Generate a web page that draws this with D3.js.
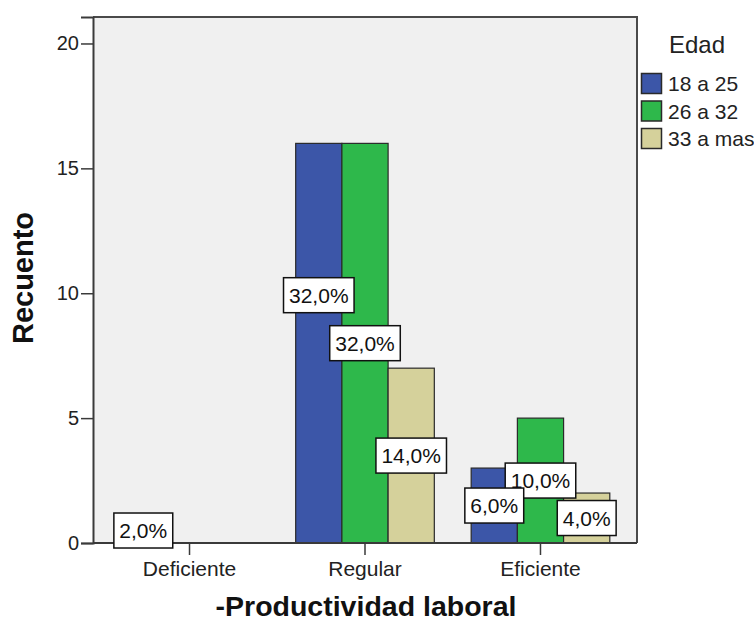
<!DOCTYPE html>
<html>
<head>
<meta charset="utf-8">
<script src="https://cdn.jsdelivr.net/npm/d3@7"></script>
<style>
  html, body { margin: 0; padding: 0; background: #ffffff; }
  svg { display: block; font-family: "Liberation Sans", Arial, sans-serif; }
</style>
</head>
<body>
<svg id="chart" width="754" height="625"></svg>
<script>
// Recuento por nivel de productividad laboral y grupo de edad
const categories = ["Deficiente", "Regular", "Eficiente"];
const groups = ["18 a 25", "26 a 32", "33 a mas"];
const counts18a25 = [1, 16, 3];
const counts26a32 = [0, 16, 5];
const counts33aMas = [0, 7, 2];
const percent18a25 = ["2,0%", "32,0%", "6,0%"];
const percent26a32 = ["", "32,0%", "10,0%"];
const percent33aMas = ["", "14,0%", "4,0%"];
const yTicks = [0, 5, 10, 15, 20];
const colors = ["#3C56A8", "#2EB84B", "#D5D19B"];

const seriesCounts = [counts18a25, counts26a32, counts33aMas];
const seriesPct = [percent18a25, percent26a32, percent33aMas];

const rows = [];
categories.forEach((c, ci) => {
  groups.forEach((g, gi) => {
    rows.push({ cat: c, group: g, gi, value: seriesCounts[gi][ci], pct: seriesPct[gi][ci] });
  });
});

const svg = d3.select("#chart");
const plot = { left: 93, right: 637, top: 17, bottom: 543 };

const x0 = d3.scaleBand()
  .domain(categories)
  .range([plot.left, plot.right])
  .paddingInner(0.21)
  .paddingOuter(0.155);
const x1 = d3.scaleBand()
  .domain(groups)
  .range([0, x0.bandwidth()])
  .padding(0);
const y = d3.scaleLinear()
  .domain([0, 21.06])
  .range([plot.bottom, plot.top]);
const color = d3.scaleOrdinal().domain(groups).range(colors);

// plot background
svg.append("rect")
  .attr("x", plot.left).attr("y", plot.top)
  .attr("width", plot.right - plot.left).attr("height", plot.bottom - plot.top)
  .attr("fill", "#F0F0F0");

// bars
svg.append("g").selectAll("rect")
  .data(rows.filter(d => d.value > 0))
  .join("rect")
  .attr("x", d => x0(d.cat) + x1(d.group))
  .attr("y", d => y(d.value))
  .attr("width", x1.bandwidth())
  .attr("height", d => y(0) - y(d.value))
  .attr("fill", d => color(d.group))
  .attr("stroke", "#2a2a2a")
  .attr("stroke-width", 1.2);

// frame (top and right sides)
svg.append("path")
  .attr("d", `M${plot.left},${plot.top}H${plot.right}V${plot.bottom}`)
  .attr("fill", "none")
  .attr("stroke", "#4a4a4a")
  .attr("stroke-width", 2);

// y axis
const yAxis = svg.append("g")
  .attr("transform", `translate(${plot.left},0)`)
  .call(d3.axisLeft(y).tickValues(yTicks).tickSize(12).tickPadding(2).tickFormat(d3.format("d")));
yAxis.select(".domain").attr("stroke", "#3a3a3a").attr("stroke-width", 2);
yAxis.selectAll(".tick line").attr("stroke", "#3a3a3a").attr("stroke-width", 1.5);
yAxis.selectAll(".tick text").attr("font-size", 20).attr("fill", "#222")
  .attr("font-family", "Liberation Sans, Arial, sans-serif");

// x axis
const xAxis = svg.append("g")
  .attr("transform", `translate(0,${plot.bottom})`)
  .call(d3.axisBottom(x0).tickSize(12).tickPadding(6).tickSizeOuter(0));
xAxis.select(".domain").attr("stroke", "#3a3a3a").attr("stroke-width", 2)
  .attr("d", `M${plot.left},0H${plot.right}`);
xAxis.selectAll(".tick line").attr("stroke", "#3a3a3a").attr("stroke-width", 1.5);
xAxis.selectAll(".tick text").attr("font-size", 21).attr("fill", "#222")
  .attr("font-family", "Liberation Sans, Arial, sans-serif");

// axis titles
svg.append("text")
  .attr("transform", `translate(33,278) rotate(-90)`)
  .attr("text-anchor", "middle")
  .attr("font-size", 29).attr("font-weight", "bold").attr("fill", "#111")
  .text("Recuento");
svg.append("text")
  .attr("x", 366).attr("y", 616)
  .attr("text-anchor", "middle")
  .attr("font-size", 28.5).attr("font-weight", "bold").attr("fill", "#111")
  .text("-Productividad laboral");

// percentage labels, centred on each bar; a label that would sit
// on top of its neighbour is lifted above it
const labelH = 35, padX = 5.5, gap = 13;
const labelLayer = svg.append("g");
const placed = [];
const labelRows = rows.filter(d => d.pct !== "").slice().sort((a, b) =>
  categories.indexOf(a.cat) - categories.indexOf(b.cat) || b.gi - a.gi);
labelRows.forEach(d => {
  const cx = x0(d.cat) + x1(d.group) + x1.bandwidth() / 2;
  let cy = (y(d.value) + y(0)) / 2;
  const g = labelLayer.append("g");
  const rect = g.append("rect");
  const t = g.append("text")
    .attr("text-anchor", "middle")
    .attr("font-size", 21).attr("fill", "#111")
    .text(d.pct);
  const w = t.node().getComputedTextLength() + 2 * padX;
  placed.forEach(p => {
    const hOverlap = Math.min(cx + w / 2, p.x + p.w / 2) - Math.max(cx - w / 2, p.x - p.w / 2);
    const vOverlap = labelH - Math.abs(cy - p.y);
    if (p.cat === d.cat && hOverlap > 0 && vOverlap > labelH / 2) {
      cy = p.y - labelH - gap;
    }
  });
  placed.push({ x: cx, y: cy, w, cat: d.cat });
  rect.attr("x", cx - w / 2).attr("y", cy - labelH / 2)
    .attr("width", w).attr("height", labelH)
    .attr("fill", "#ffffff").attr("stroke", "#111").attr("stroke-width", 1.5);
  t.attr("x", cx).attr("y", cy).attr("dy", "0.36em");
});

// legend
const legend = svg.append("g");
legend.append("text")
  .attr("x", 669).attr("y", 53)
  .attr("font-size", 24).attr("fill", "#222")
  .text("Edad");
const item = legend.selectAll("g.item")
  .data(groups)
  .join("g")
  .attr("class", "item")
  .attr("transform", (d, i) => `translate(641,${73 + i * 27.5})`);
item.append("rect")
  .attr("x", 0.5).attr("y", 0.5)
  .attr("width", 20).attr("height", 20)
  .attr("fill", d => color(d))
  .attr("stroke", "#2a2a2a").attr("stroke-width", 1.5);
item.append("text")
  .attr("x", 27).attr("y", 18)
  .attr("font-size", 21).attr("fill", "#222")
  .text(d => d);
</script>
</body>
</html>
